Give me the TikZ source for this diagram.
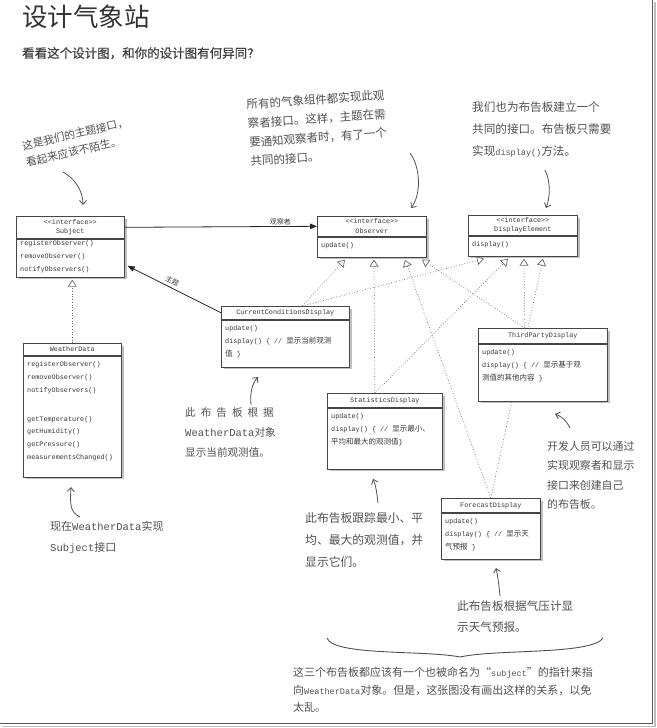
\documentclass[tikz,border=0pt]{standalone}
\usepackage{fontspec}
\setmainfont{Noto Sans CJK SC}
\setmonofont{Liberation Mono}
\usepackage{tikz}
\usetikzlibrary{arrows.meta,positioning,backgrounds,shadows}
\definecolor{inkgrey}{RGB}{55,55,55}
\definecolor{boxline}{RGB}{70,70,70}
\definecolor{shadegrey}{RGB}{130,130,130}
\definecolor{notegrey}{RGB}{80,80,80}
\definecolor{dotgrey}{RGB}{105,105,105}
\definecolor{pagegrey}{RGB}{90,90,90}
\newcommand{\zh}[1]{{\rmfamily\fontsize{7.5pt}{12.8pt}\selectfont #1}}
\newcommand{\code}[2][8.5]{{\ttfamily\fontsize{#1pt}{#1pt}\selectfont #2}}
\tikzset{
  uml/.style={rectangle, draw=boxline, fill=white, line width=0.6pt, inner sep=0pt,
    drop shadow={shadow xshift=2.5pt, shadow yshift=-2.5pt, fill=shadegrey}},
  hdr/.style={uml, anchor=north west, align=center, text=inkgrey, font=\ttfamily\fontsize{6.8pt}{9.5pt}\selectfont},
  mtxt/.style={anchor=north west, align=left, inner xsep=4pt, inner ysep=6pt, text=inkgrey,
    font=\ttfamily\fontsize{6.8pt}{12.8pt}\selectfont},
  note/.style={anchor=north west, align=left, inner sep=0pt, text=notegrey},
  lbl/.style={font=\fontsize{7pt}{8pt}\selectfont, text=inkgrey, inner sep=1.5pt},
  arr/.style={draw=black!85, line width=0.8pt, -{Triangle[length=7pt,width=5.5pt]}},
  arrd/.style={draw=dotgrey, line width=0.7pt, dotted, -{Triangle[length=7pt,width=9pt,fill=white]}},
  hand/.style={draw=notegrey, line width=0.8pt, -{Straight Barb[length=4pt,width=7pt]}},
}
\begin{document}
\begin{tikzpicture}[x=1pt,y=-1pt]
  \useasboundingbox (0,0) rectangle (656,728);
  \draw[pagegrey, line width=1.6pt] (652.5,0) -- (652.5,723.5) -- (0,723.5);
  \draw[black!25, line width=1.4pt] (655,2) -- (655,726.5) -- (2,726.5);

  \node[note, text=black!80, font=\fontsize{25.5pt}{26pt}\selectfont] (ttl) at (22,5) {设计气象站};
  \node[note, text=black!75, font=\fontsize{12.5pt}{13pt}\selectfont] (sub) at (22,47) {\addfontfeature{FakeBold=0.6}看看这个设计图，和你的设计图有何异同？};

  \node[hdr, minimum width=108pt, minimum height=22pt] (subj) at (16,216) {<<interface>>\\Subject};
  \node[uml, minimum width=108pt, minimum height=38pt, below=0pt of subj] (subjb) {};
  \node[mtxt, inner ysep=2pt] (subjt) at (subjb.north west) {registerObserver()\\removeObserver()\\notifyObservers()};

  \node[hdr, minimum width=109pt, minimum height=20pt] (obs) at (317,216) {<<interface>>\\Observer};
  \node[uml, minimum width=109pt, minimum height=20pt, below=0pt of obs] (obsb) {};
  \node[mtxt] (obst) at (obsb.north west) {update()};

  \node[hdr, minimum width=109pt, minimum height=20pt] (de) at (468,215) {<<interface>>\\DisplayElement};
  \node[uml, minimum width=109pt, minimum height=20pt, below=0pt of de] (deb) {};
  \node[mtxt] (det) at (deb.north west) {display()};

  \node[hdr, minimum width=98pt, minimum height=12pt] (wd) at (23,343) {WeatherData};
  \node[uml, minimum width=98pt, minimum height=121pt, below=0pt of wd] (wdb) {};
  \node[mtxt] (wdt) at (wdb.north west) {registerObserver()\\removeObserver()\\notifyObservers()\\[16pt]getTemperature()\\getHumidity()\\getPressure()\\measurementsChanged()};

  \node[hdr, minimum width=128pt, minimum height=13pt] (ccd) at (221,306) {CurrentConditionsDisplay};
  \node[uml, minimum width=128pt, minimum height=47pt, below=0pt of ccd] (ccdb) {};
  \node[mtxt] (ccdt) at (ccdb.north west) {update()\\display() \{ // \zh{显示当前观测}\\\zh{值} \}};

  \node[hdr, minimum width=115pt, minimum height=14pt] (sta) at (327,393) {StatisticsDisplay};
  \node[uml, minimum width=115pt, minimum height=61pt, below=0pt of sta] (stab) {};
  \node[mtxt] (stat) at (stab.north west) {update()\\display() \{ // \zh{显示最小、}\\\zh{平均和最大的观测值}\}};

  \node[hdr, minimum width=129pt, minimum height=15pt] (tpd) at (478,328) {ThirdPartyDisplay};
  \node[uml, minimum width=129pt, minimum height=57pt, below=0pt of tpd] (tpdb) {};
  \node[mtxt] (tpdt) at (tpdb.north west) {update()\\display() \{ // \zh{显示基于观}\\\zh{测值的其他内容} \}};

  \node[hdr, minimum width=99pt, minimum height=14pt] (fcd) at (441,498) {ForecastDisplay};
  \node[uml, minimum width=99pt, minimum height=46pt, below=0pt of fcd] (fcdb) {};
  \node[mtxt] (fcdt) at (fcdb.north west) {update()\\display() \{ // \zh{显示天}\\\zh{气预报} \}};

  \draw[arr] (subj.east) -- (obs.west) node[lbl, pos=0.81, above] (obsl) {观察者};
  \draw[arr] (ccd.west) -- ([shift={(3pt,-8pt)}]subjb.east) node[lbl, pos=0.55, above=1pt, sloped] (subl) {主题};

  \coordinate (o1) at ([shift={(28pt,-2.5pt)}]obsb.south west);
  \coordinate (o2) at ([shift={(57pt,-2.5pt)}]obsb.south west);
  \coordinate (o3) at ([shift={(88pt,-2.5pt)}]obsb.south west);
  \coordinate (o4) at ([shift={(105pt,-2.5pt)}]obsb.south west);
  \coordinate (d1) at ([shift={(16pt,-2.5pt)}]deb.south west);
  \coordinate (d2) at ([shift={(40pt,-2.5pt)}]deb.south west);
  \coordinate (d3) at ([shift={(56pt,-2.5pt)}]deb.south west);
  \coordinate (d4) at ([shift={(75pt,-2.5pt)}]deb.south west);
  \coordinate (c1) at ([xshift=17pt]ccd.north);
  \coordinate (s1) at ([xshift=-10pt]sta.north);
  \coordinate (t1) at ([xshift=-18pt]tpd.north);
  \coordinate (f1) at (fcd.north);
  \begin{scope}[on background layer]
    \foreach \s/\t in {c1/o1,c1/d1,s1/o2,s1/d2,f1/o3,f1/d4,t1/o4,t1/d3}{\draw[arrd] (\s) -- (\t);}
    \draw[arrd] (wd.north) -- ([yshift=-2.5pt]wd.north |- subjb.south);
  \end{scope}

  \node[note, rotate=13, font=\fontsize{10.8pt}{17pt}\selectfont] (n1) at (21,141) {这是我们的主题接口，\\看起来应该不陌生。};
  \node[note, rotate=4, font=\fontsize{11.5pt}{19pt}\selectfont] (n2) at (246,99) {所有的气象组件都实现此观\\察者接口。这样，主题在需\\要通知观察者时，有了一个\\共同的接口。};
  \node[note, font=\fontsize{11.6pt}{22pt}\selectfont] (n3) at (472,101) {我们也为布告板建立一个\\共同的接口。布告板只需要\\实现\code{display()}方法。};
  \node[note, font=\fontsize{10.6pt}{20pt}\selectfont] (n4) at (185,407) {此\hspace{5pt}布\hspace{5pt}告\hspace{5pt}板\hspace{5pt}根\hspace{5pt}据\\\code[10.5]{WeatherData}对象\\显示当前观测值。};
  \node[note, font=\fontsize{11.8pt}{22pt}\selectfont] (n5) at (305,512) {此布告板跟踪最小、平\\均、最大的观测值，并\\显示它们。};
  \node[note, font=\fontsize{10.9pt}{19.5pt}\selectfont] (n6) at (547,441) {开发人员可以通过\\实现观察者和显示\\接口来创建自己\\的布告板。};
  \node[note, font=\fontsize{11.6pt}{21pt}\selectfont] (n7) at (457,601) {此布告板根据气压计显\\示天气预报。};
  \node[note, font=\fontsize{11pt}{17.5pt}\selectfont] (n8) at (293,667) {这三个布告板都应该有一个也被命名为“\code{subject}”的指针来指\\向\code{WeatherData}对象。但是，这张图没有画出这样的关系，以免\\太乱。};
  \node[note, font=\fontsize{11pt}{21pt}\selectfont] (n9) at (50,521) {现在\code[10.5]{WeatherData}实现\\\code[10.5]{Subject}接口};

  \coordinate (h1a) at (63,172);  \coordinate (h1b) at (83,205);
  \coordinate (h2a) at (410,153); \coordinate (h2b) at (411,208);
  \coordinate (h3a) at (545,170); \coordinate (h3b) at (546,208);
  \coordinate (h4a) at (251,405); \coordinate (h4b) at (258,377);
  \coordinate (h5a) at (378,503); \coordinate (h5b) at (373,479);
  \coordinate (h6a) at (500,596); \coordinate (h6b) at (496,568);
  \coordinate (h7a) at (80,517);  \coordinate (h7b) at (71,487);
  \coordinate (h8a) at (570,428); \coordinate (h8b) at (555,414);
  \draw[hand] (h1a) .. controls (74,178) and (83,190) .. (h1b);
  \draw[hand] (h2a) .. controls (421,168) and (421,195) .. (h2b);
  \draw[hand] (h3a) .. controls (551,182) and (550,198) .. (h3b);
  \draw[hand] (h4a) .. controls (250,392) and (252,384) .. (h4b);
  \draw[hand] (h5a) .. controls (377,494) and (376,486) .. (h5b);
  \draw[hand] (h6a) .. controls (499,586) and (498,577) .. (h6b);
  \draw[hand] (h7a) .. controls (70,512) and (70,505) .. (h7b);
  \draw[hand] (h8a) .. controls (566,420) and (561,416) .. (h8b);
  \draw[notegrey, line width=0.9pt] (327,638) .. controls (333,656) and (425,650) .. (460,657) .. controls (495,649) and (592,655) .. (603,638);
\end{tikzpicture}
\end{document}
